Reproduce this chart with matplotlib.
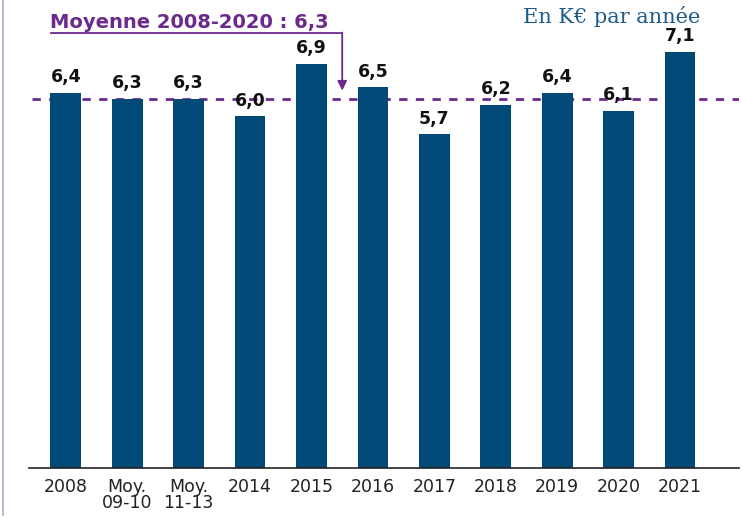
import numpy as np
import matplotlib.pyplot as plt
from matplotlib.lines import Line2D

categories = ['2008', 'Moy.\n09-10', 'Moy.\n11-13', '2014', '2015', '2016',
              '2017', '2018', '2019', '2020', '2021']
values = [6.4, 6.3, 6.3, 6.0, 6.9, 6.5, 5.7, 6.2, 6.4, 6.1, 7.1]
labels = ['6,4', '6,3', '6,3', '6,0', '6,9', '6,5', '5,7', '6,2', '6,4', '6,1', '7,1']
mean_value = 6.3
mean_label = 'Moyenne 2008-2020 : 6,3'
unit_label = 'En K€ par année'

bar_color = '#014a77'
purple = '#6c2a8c'

fig = plt.figure(figsize=(7.42, 5.18), dpi=100)
ax = fig.add_axes([0.039, 0.0965, 0.957, 0.9035])

x = np.arange(len(categories))
ax.bar(x, values, width=0.5, color=bar_color, zorder=2)

for xi, v, lab in zip(x, values, labels):
    ax.text(xi, v + 0.11, lab, ha='center', va='bottom', fontsize=12.5,
            fontweight='bold', color='#111111', family='DejaVu Sans', zorder=4)

# dotted average line
ax.axhline(mean_value, xmin=0.005, xmax=1, color=purple, linestyle=(0, (3, 3)),
           linewidth=2, zorder=1)

# annotation with bent arrow
ax.text(-0.26, 7.51, mean_label, ha='left', va='baseline', fontsize=14,
        fontweight='bold', color=purple, family='DejaVu Sans')
ax.plot([-0.24, 4.5], [7.42, 7.42], color=purple, linewidth=1.3, clip_on=False)
ax.annotate('', xy=(4.5, 6.44), xytext=(4.5, 7.43),
            arrowprops=dict(arrowstyle='-|>', color=purple, lw=1.3,
                            mutation_scale=14, shrinkA=0, shrinkB=0))

ax.text(10.33, 7.6, unit_label, ha='right', va='baseline', fontsize=15,
        color='#1d5a88', family='DejaVu Serif')

ax.set_xlim(-0.6, 10.96)
ax.set_ylim(0, 7.986)
ax.set_xticks(x)
ax.set_xticklabels(categories, fontsize=12.5, color='#222222', linespacing=0.9)
ax.tick_params(axis='x', length=0, pad=7)
ax.set_yticks([])
for side in ['top', 'right', 'left']:
    ax.spines[side].set_visible(False)
ax.spines['bottom'].set_color('#222222')
ax.spines['bottom'].set_linewidth(1.2)

fig.add_artist(Line2D([0.004, 0.004], [0.005, 1.0], color='#a9aec8', linewidth=1.2))

fig.savefig('out.png', dpi=100)
